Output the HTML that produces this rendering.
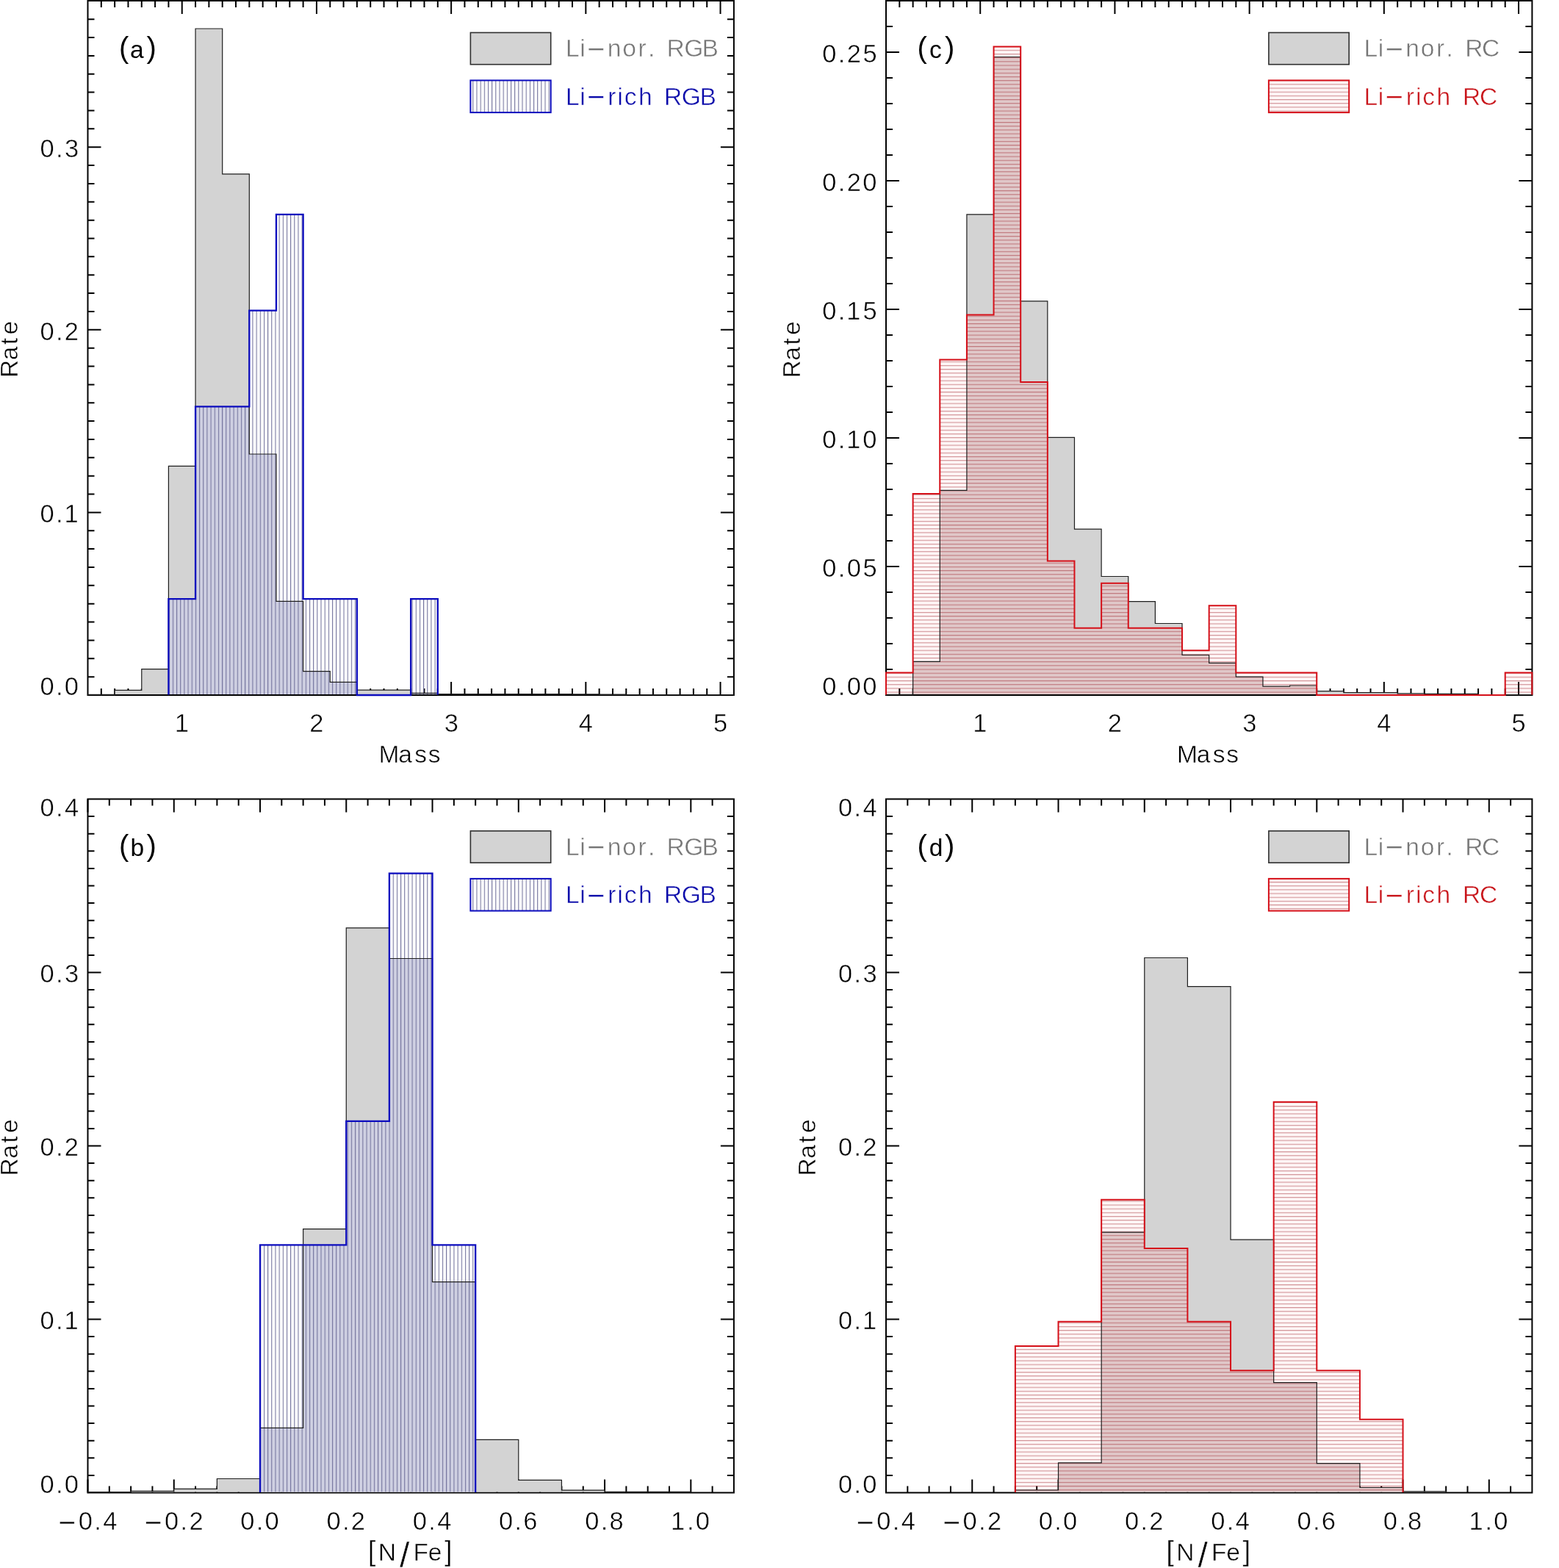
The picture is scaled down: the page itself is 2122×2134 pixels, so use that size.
<!DOCTYPE html>
<html><head><meta charset="utf-8"><title>Li-rich giants: Mass and [N/Fe] distributions</title>
<style>html,body{margin:0;padding:0;background:#fff;}svg{display:block;}text{font-family:"Liberation Sans", "DejaVu Sans", sans-serif;font-kerning:none;stroke:#fff;stroke-width:0.5px;}</style></head><body>
<svg width="2122" height="2134" viewBox="0 0 2122 2134">
<defs>
<pattern id="hv" patternUnits="userSpaceOnUse" x="2.2" y="0" width="5.17" height="20"><rect x="0" y="0" width="1.1" height="20" fill="#74749e"/></pattern>
<pattern id="hh" patternUnits="userSpaceOnUse" x="0" y="0.6" width="20" height="5.17"><rect x="0" y="0" width="20" height="5.17" fill="rgba(255,0,0,0.035)"/><rect x="0" y="0" width="20" height="1.1" fill="rgba(150,20,30,0.45)"/></pattern>
</defs>
<rect width="2122" height="2134" fill="#fff"/>
<path d="M137.82 946V937M137.82 1V10M156.14 946V937M156.14 1V10M174.46 946V937M174.46 1V10M192.78 946V937M192.78 1V10M211.1 946V937M211.1 1V10M229.42 946V937M229.42 1V10M247.74 946V937M247.74 1V10M266.06 946V937M266.06 1V10M284.38 946V937M284.38 1V10M302.7 946V937M302.7 1V10M321.02 946V937M321.02 1V10M339.34 946V937M339.34 1V10M357.66 946V937M357.66 1V10M375.98 946V937M375.98 1V10M394.3 946V937M394.3 1V10M412.62 946V937M412.62 1V10M430.94 946V937M430.94 1V10M449.26 946V937M449.26 1V10M467.58 946V937M467.58 1V10M485.9 946V937M485.9 1V10M504.22 946V937M504.22 1V10M522.54 946V937M522.54 1V10M540.86 946V937M540.86 1V10M559.18 946V937M559.18 1V10M577.5 946V937M577.5 1V10M595.82 946V937M595.82 1V10M614.14 946V937M614.14 1V10M632.46 946V937M632.46 1V10M650.78 946V937M650.78 1V10M669.1 946V937M669.1 1V10M687.42 946V937M687.42 1V10M705.74 946V937M705.74 1V10M724.06 946V937M724.06 1V10M742.38 946V937M742.38 1V10M760.7 946V937M760.7 1V10M779.02 946V937M779.02 1V10M797.34 946V937M797.34 1V10M815.66 946V937M815.66 1V10M833.98 946V937M833.98 1V10M852.3 946V937M852.3 1V10M870.62 946V937M870.62 1V10M888.94 946V937M888.94 1V10M907.26 946V937M907.26 1V10M925.58 946V937M925.58 1V10M943.9 946V937M943.9 1V10M962.22 946V937M962.22 1V10M980.54 946V937M980.54 1V10M247.74 946V928M247.74 1V19M430.94 946V928M430.94 1V19M614.14 946V928M614.14 1V19M797.34 946V928M797.34 1V19M980.54 946V928M980.54 1V19M119.5 921.14H128.5M998.9 921.14H989.9M119.5 896.28H128.5M998.9 896.28H989.9M119.5 871.42H128.5M998.9 871.42H989.9M119.5 846.56H128.5M998.9 846.56H989.9M119.5 821.7H128.5M998.9 821.7H989.9M119.5 796.84H128.5M998.9 796.84H989.9M119.5 771.98H128.5M998.9 771.98H989.9M119.5 747.12H128.5M998.9 747.12H989.9M119.5 722.26H128.5M998.9 722.26H989.9M119.5 697.4H128.5M998.9 697.4H989.9M119.5 672.54H128.5M998.9 672.54H989.9M119.5 647.68H128.5M998.9 647.68H989.9M119.5 622.82H128.5M998.9 622.82H989.9M119.5 597.96H128.5M998.9 597.96H989.9M119.5 573.1H128.5M998.9 573.1H989.9M119.5 548.24H128.5M998.9 548.24H989.9M119.5 523.38H128.5M998.9 523.38H989.9M119.5 498.52H128.5M998.9 498.52H989.9M119.5 473.66H128.5M998.9 473.66H989.9M119.5 448.8H128.5M998.9 448.8H989.9M119.5 423.94H128.5M998.9 423.94H989.9M119.5 399.08H128.5M998.9 399.08H989.9M119.5 374.22H128.5M998.9 374.22H989.9M119.5 349.36H128.5M998.9 349.36H989.9M119.5 324.5H128.5M998.9 324.5H989.9M119.5 299.64H128.5M998.9 299.64H989.9M119.5 274.78H128.5M998.9 274.78H989.9M119.5 249.92H128.5M998.9 249.92H989.9M119.5 225.06H128.5M998.9 225.06H989.9M119.5 200.2H128.5M998.9 200.2H989.9M119.5 175.34H128.5M998.9 175.34H989.9M119.5 150.48H128.5M998.9 150.48H989.9M119.5 125.62H128.5M998.9 125.62H989.9M119.5 100.76H128.5M998.9 100.76H989.9M119.5 75.9H128.5M998.9 75.9H989.9M119.5 51.04H128.5M998.9 51.04H989.9M119.5 26.18H128.5M998.9 26.18H989.9M119.5 697.4H137.5M998.9 697.4H980.9M119.5 448.8H137.5M998.9 448.8H980.9M119.5 200.2H137.5M998.9 200.2H980.9" stroke="#000" stroke-width="2" fill="none"/>
<rect x="119.5" y="1" width="879.4" height="945" fill="none" stroke="#000" stroke-width="2"/>
<path d="M119.5 945 L119.5 945.3 L156.14 945.3 L156.14 939.4 L192.78 939.4 L192.78 910.6 L229.42 910.6 L229.42 634.3 L266.06 634.3 L266.06 39 L302.7 39 L302.7 236.9 L339.34 236.9 L339.34 618 L375.98 618 L375.98 818.3 L412.62 818.3 L412.62 913.6 L449.26 913.6 L449.26 928.4 L485.9 928.4 L485.9 939.2 L522.54 939.2 L522.54 939.2 L559.18 939.2 L559.18 943.3 L595.82 943.3 L595.82 944.6 L632.46 944.6 L632.46 944.6 L669.1 944.6 L669.1 944.6 L705.74 944.6 L705.74 944.6 L742.38 944.6 L742.38 944.6 L779.02 944.6 L779.02 944.8 L815.66 944.8 L815.66 945.2 L852.3 945.2 L852.3 945.5 L888.94 945.5 L888.94 945.5 L925.58 945.5 L925.58 945.5 L962.22 945.5 L962.22 945.5 L998.86 945.5 L998.86 945Z" fill="#d3d3d3" stroke="none"/>
<path d="M229.42 815.16H266.06V945H229.42ZM266.06 553.47H302.7V945H266.06ZM302.7 553.47H339.34V945H302.7ZM339.34 618H375.98V945H339.34ZM375.98 818.3H412.62V945H375.98ZM412.62 913.6H449.26V945H412.62ZM449.26 928.4H485.9V945H449.26ZM559.18 943.3H595.82V945H559.18Z" fill="#cfd0e2"/>
<path d="M229.42 945 L229.42 815.16 L266.06 815.16 L266.06 553.47 L302.7 553.47 L302.7 553.47 L339.34 553.47 L339.34 422.63 L375.98 422.63 L375.98 291.79 L412.62 291.79 L412.62 815.16 L449.26 815.16 L449.26 815.16 L485.9 815.16 L485.9 946 L522.54 946 L522.54 946 L559.18 946 L559.18 815.16 L595.82 815.16 L595.82 945Z" fill="url(#hv)" stroke="none"/>
<path d="M119.5 946 L119.5 945.3 L156.14 945.3 L156.14 939.4 L192.78 939.4 L192.78 910.6 L229.42 910.6 L229.42 634.3 L266.06 634.3 L266.06 39 L302.7 39 L302.7 236.9 L339.34 236.9 L339.34 618 L375.98 618 L375.98 818.3 L412.62 818.3 L412.62 913.6 L449.26 913.6 L449.26 928.4 L485.9 928.4 L485.9 939.2 L522.54 939.2 L522.54 939.2 L559.18 939.2 L559.18 943.3 L595.82 943.3 L595.82 944.6 L632.46 944.6 L632.46 944.6 L669.1 944.6 L669.1 944.6 L705.74 944.6 L705.74 944.6 L742.38 944.6 L742.38 944.6 L779.02 944.6 L779.02 944.8 L815.66 944.8 L815.66 945.2 L852.3 945.2 L852.3 945.5 L888.94 945.5 L888.94 945.5 L925.58 945.5 L925.58 945.5 L962.22 945.5 L962.22 945.5 L998.86 945.5 L998.86 946" fill="none" stroke="#1e1e1e" stroke-width="1.2"/>
<path d="M229.42 945.5 L229.42 815.16 L266.06 815.16 L266.06 553.47 L302.7 553.47 L302.7 553.47 L339.34 553.47 L339.34 422.63 L375.98 422.63 L375.98 291.79 L412.62 291.79 L412.62 815.16 L449.26 815.16 L449.26 815.16 L485.9 815.16 L485.9 946 L522.54 946 L522.54 946 L559.18 946 L559.18 815.16 L595.82 815.16 L595.82 945.5" fill="none" stroke="#0c0cbe" stroke-width="2.3" stroke-linejoin="miter"/>
<path d="M1224.32 946V937M1224.32 1V10M1242.64 946V937M1242.64 1V10M1260.96 946V937M1260.96 1V10M1279.28 946V937M1279.28 1V10M1297.6 946V937M1297.6 1V10M1315.92 946V937M1315.92 1V10M1334.24 946V937M1334.24 1V10M1352.56 946V937M1352.56 1V10M1370.88 946V937M1370.88 1V10M1389.2 946V937M1389.2 1V10M1407.52 946V937M1407.52 1V10M1425.84 946V937M1425.84 1V10M1444.16 946V937M1444.16 1V10M1462.48 946V937M1462.48 1V10M1480.8 946V937M1480.8 1V10M1499.12 946V937M1499.12 1V10M1517.44 946V937M1517.44 1V10M1535.76 946V937M1535.76 1V10M1554.08 946V937M1554.08 1V10M1572.4 946V937M1572.4 1V10M1590.72 946V937M1590.72 1V10M1609.04 946V937M1609.04 1V10M1627.36 946V937M1627.36 1V10M1645.68 946V937M1645.68 1V10M1664 946V937M1664 1V10M1682.32 946V937M1682.32 1V10M1700.64 946V937M1700.64 1V10M1718.96 946V937M1718.96 1V10M1737.28 946V937M1737.28 1V10M1755.6 946V937M1755.6 1V10M1773.92 946V937M1773.92 1V10M1792.24 946V937M1792.24 1V10M1810.56 946V937M1810.56 1V10M1828.88 946V937M1828.88 1V10M1847.2 946V937M1847.2 1V10M1865.52 946V937M1865.52 1V10M1883.84 946V937M1883.84 1V10M1902.16 946V937M1902.16 1V10M1920.48 946V937M1920.48 1V10M1938.8 946V937M1938.8 1V10M1957.12 946V937M1957.12 1V10M1975.44 946V937M1975.44 1V10M1993.76 946V937M1993.76 1V10M2012.08 946V937M2012.08 1V10M2030.4 946V937M2030.4 1V10M2048.72 946V937M2048.72 1V10M2067.04 946V937M2067.04 1V10M1334.24 946V928M1334.24 1V19M1517.44 946V928M1517.44 1V19M1700.64 946V928M1700.64 1V19M1883.84 946V928M1883.84 1V19M2067.04 946V928M2067.04 1V19M1206 911H1215M2085.4 911H2076.4M1206 876H1215M2085.4 876H2076.4M1206 841H1215M2085.4 841H2076.4M1206 806H1215M2085.4 806H2076.4M1206 771H1215M2085.4 771H2076.4M1206 736H1215M2085.4 736H2076.4M1206 701H1215M2085.4 701H2076.4M1206 666H1215M2085.4 666H2076.4M1206 631H1215M2085.4 631H2076.4M1206 596H1215M2085.4 596H2076.4M1206 561H1215M2085.4 561H2076.4M1206 526H1215M2085.4 526H2076.4M1206 491H1215M2085.4 491H2076.4M1206 456H1215M2085.4 456H2076.4M1206 421H1215M2085.4 421H2076.4M1206 386H1215M2085.4 386H2076.4M1206 351H1215M2085.4 351H2076.4M1206 316H1215M2085.4 316H2076.4M1206 281H1215M2085.4 281H2076.4M1206 246H1215M2085.4 246H2076.4M1206 211H1215M2085.4 211H2076.4M1206 176H1215M2085.4 176H2076.4M1206 141H1215M2085.4 141H2076.4M1206 106H1215M2085.4 106H2076.4M1206 71H1215M2085.4 71H2076.4M1206 36H1215M2085.4 36H2076.4M1206 771H1224M2085.4 771H2067.4M1206 596H1224M2085.4 596H2067.4M1206 421H1224M2085.4 421H2067.4M1206 246H1224M2085.4 246H2067.4M1206 71H1224M2085.4 71H2067.4" stroke="#000" stroke-width="2" fill="none"/>
<rect x="1206" y="1" width="879.4" height="945" fill="none" stroke="#000" stroke-width="2"/>
<path d="M1206 945 L1206 945.4 L1242.64 945.4 L1242.64 900.3 L1279.28 900.3 L1279.28 667.4 L1315.92 667.4 L1315.92 291.8 L1352.56 291.8 L1352.56 77.5 L1389.2 77.5 L1389.2 409.8 L1425.84 409.8 L1425.84 595.4 L1462.48 595.4 L1462.48 720.2 L1499.12 720.2 L1499.12 784.5 L1535.76 784.5 L1535.76 818.6 L1572.4 818.6 L1572.4 848.5 L1609.04 848.5 L1609.04 891.5 L1645.68 891.5 L1645.68 902.4 L1682.32 902.4 L1682.32 921.1 L1718.96 921.1 L1718.96 934.2 L1755.6 934.2 L1755.6 933 L1792.24 933 L1792.24 940.7 L1828.88 940.7 L1828.88 942.6 L1865.52 942.6 L1865.52 942.6 L1902.16 942.6 L1902.16 943.8 L1938.8 943.8 L1938.8 944.3 L1975.44 944.3 L1975.44 944.3 L2012.08 944.3 L2012.08 945.6 L2048.72 945.6 L2048.72 945.6 L2085.36 945.6 L2085.36 945Z" fill="#d3d3d3" stroke="none"/>
<path d="M1242.64 900.3H1279.28V945H1242.64ZM1279.28 667.4H1315.92V945H1279.28ZM1315.92 428.61H1352.56V945H1315.92ZM1352.56 77.5H1389.2V945H1352.56ZM1389.2 519.91H1425.84V945H1389.2ZM1425.84 763.39H1462.48V945H1425.84ZM1462.48 854.7H1499.12V945H1462.48ZM1499.12 793.83H1535.76V945H1499.12ZM1535.76 854.7H1572.4V945H1535.76ZM1572.4 854.7H1609.04V945H1572.4ZM1609.04 891.5H1645.68V945H1609.04ZM1645.68 902.4H1682.32V945H1645.68ZM1682.32 921.1H1718.96V945H1682.32ZM1718.96 934.2H1755.6V945H1718.96ZM1755.6 933H1792.24V945H1755.6Z" fill="#dfcfd0"/>
<path d="M1206 945 L1206 915.57 L1242.64 915.57 L1242.64 672.09 L1279.28 672.09 L1279.28 489.48 L1315.92 489.48 L1315.92 428.61 L1352.56 428.61 L1352.56 63.39 L1389.2 63.39 L1389.2 519.91 L1425.84 519.91 L1425.84 763.39 L1462.48 763.39 L1462.48 854.7 L1499.12 854.7 L1499.12 793.83 L1535.76 793.83 L1535.76 854.7 L1572.4 854.7 L1572.4 854.7 L1609.04 854.7 L1609.04 885.13 L1645.68 885.13 L1645.68 824.26 L1682.32 824.26 L1682.32 915.57 L1718.96 915.57 L1718.96 915.57 L1755.6 915.57 L1755.6 915.57 L1792.24 915.57 L1792.24 946 L1828.88 946 L1828.88 946 L1865.52 946 L1865.52 946 L1902.16 946 L1902.16 946 L1938.8 946 L1938.8 946 L1975.44 946 L1975.44 946 L2012.08 946 L2012.08 946 L2048.72 946 L2048.72 915.57 L2085.36 915.57 L2085.36 945Z" fill="url(#hh)" stroke="none"/>
<path d="M1206 946 L1206 945.4 L1242.64 945.4 L1242.64 900.3 L1279.28 900.3 L1279.28 667.4 L1315.92 667.4 L1315.92 291.8 L1352.56 291.8 L1352.56 77.5 L1389.2 77.5 L1389.2 409.8 L1425.84 409.8 L1425.84 595.4 L1462.48 595.4 L1462.48 720.2 L1499.12 720.2 L1499.12 784.5 L1535.76 784.5 L1535.76 818.6 L1572.4 818.6 L1572.4 848.5 L1609.04 848.5 L1609.04 891.5 L1645.68 891.5 L1645.68 902.4 L1682.32 902.4 L1682.32 921.1 L1718.96 921.1 L1718.96 934.2 L1755.6 934.2 L1755.6 933 L1792.24 933 L1792.24 940.7 L1828.88 940.7 L1828.88 942.6 L1865.52 942.6 L1865.52 942.6 L1902.16 942.6 L1902.16 943.8 L1938.8 943.8 L1938.8 944.3 L1975.44 944.3 L1975.44 944.3 L2012.08 944.3 L2012.08 945.6 L2048.72 945.6 L2048.72 945.6 L2085.36 945.6 L2085.36 946" fill="none" stroke="#1e1e1e" stroke-width="1.2"/>
<path d="M1206 945.5 L1206 915.57 L1242.64 915.57 L1242.64 672.09 L1279.28 672.09 L1279.28 489.48 L1315.92 489.48 L1315.92 428.61 L1352.56 428.61 L1352.56 63.39 L1389.2 63.39 L1389.2 519.91 L1425.84 519.91 L1425.84 763.39 L1462.48 763.39 L1462.48 854.7 L1499.12 854.7 L1499.12 793.83 L1535.76 793.83 L1535.76 854.7 L1572.4 854.7 L1572.4 854.7 L1609.04 854.7 L1609.04 885.13 L1645.68 885.13 L1645.68 824.26 L1682.32 824.26 L1682.32 915.57 L1718.96 915.57 L1718.96 915.57 L1755.6 915.57 L1755.6 915.57 L1792.24 915.57 L1792.24 946 L1828.88 946 L1828.88 946 L1865.52 946 L1865.52 946 L1902.16 946 L1902.16 946 L1938.8 946 L1938.8 946 L1975.44 946 L1975.44 946 L2012.08 946 L2012.08 946 L2048.72 946 L2048.72 915.57 L2085.36 915.57 L2085.36 945.5" fill="none" stroke="#d51019" stroke-width="2.0" stroke-linejoin="miter"/>
<path d="M148.81 2031.5V2022.5M148.81 1087.5V1096.5M178.13 2031.5V2022.5M178.13 1087.5V1096.5M207.44 2031.5V2022.5M207.44 1087.5V1096.5M236.76 2031.5V2022.5M236.76 1087.5V1096.5M266.07 2031.5V2022.5M266.07 1087.5V1096.5M295.39 2031.5V2022.5M295.39 1087.5V1096.5M324.71 2031.5V2022.5M324.71 1087.5V1096.5M354.02 2031.5V2022.5M354.02 1087.5V1096.5M383.33 2031.5V2022.5M383.33 1087.5V1096.5M412.65 2031.5V2022.5M412.65 1087.5V1096.5M441.96 2031.5V2022.5M441.96 1087.5V1096.5M471.28 2031.5V2022.5M471.28 1087.5V1096.5M500.59 2031.5V2022.5M500.59 1087.5V1096.5M529.91 2031.5V2022.5M529.91 1087.5V1096.5M559.22 2031.5V2022.5M559.22 1087.5V1096.5M588.54 2031.5V2022.5M588.54 1087.5V1096.5M617.86 2031.5V2022.5M617.86 1087.5V1096.5M647.17 2031.5V2022.5M647.17 1087.5V1096.5M676.49 2031.5V2022.5M676.49 1087.5V1096.5M705.8 2031.5V2022.5M705.8 1087.5V1096.5M735.12 2031.5V2022.5M735.12 1087.5V1096.5M764.43 2031.5V2022.5M764.43 1087.5V1096.5M793.75 2031.5V2022.5M793.75 1087.5V1096.5M823.06 2031.5V2022.5M823.06 1087.5V1096.5M852.38 2031.5V2022.5M852.38 1087.5V1096.5M881.69 2031.5V2022.5M881.69 1087.5V1096.5M911 2031.5V2022.5M911 1087.5V1096.5M940.32 2031.5V2022.5M940.32 1087.5V1096.5M969.63 2031.5V2022.5M969.63 1087.5V1096.5M119.5 2031.5V2013.5M119.5 1087.5V1105.5M236.76 2031.5V2013.5M236.76 1087.5V1105.5M354.02 2031.5V2013.5M354.02 1087.5V1105.5M471.28 2031.5V2013.5M471.28 1087.5V1105.5M588.54 2031.5V2013.5M588.54 1087.5V1105.5M705.8 2031.5V2013.5M705.8 1087.5V1105.5M823.06 2031.5V2013.5M823.06 1087.5V1105.5M940.32 2031.5V2013.5M940.32 1087.5V1105.5M119.5 2007.9H128.5M998.9 2007.9H989.9M119.5 1984.3H128.5M998.9 1984.3H989.9M119.5 1960.7H128.5M998.9 1960.7H989.9M119.5 1937.1H128.5M998.9 1937.1H989.9M119.5 1913.5H128.5M998.9 1913.5H989.9M119.5 1889.9H128.5M998.9 1889.9H989.9M119.5 1866.3H128.5M998.9 1866.3H989.9M119.5 1842.7H128.5M998.9 1842.7H989.9M119.5 1819.1H128.5M998.9 1819.1H989.9M119.5 1795.5H128.5M998.9 1795.5H989.9M119.5 1771.9H128.5M998.9 1771.9H989.9M119.5 1748.3H128.5M998.9 1748.3H989.9M119.5 1724.7H128.5M998.9 1724.7H989.9M119.5 1701.1H128.5M998.9 1701.1H989.9M119.5 1677.5H128.5M998.9 1677.5H989.9M119.5 1653.9H128.5M998.9 1653.9H989.9M119.5 1630.3H128.5M998.9 1630.3H989.9M119.5 1606.7H128.5M998.9 1606.7H989.9M119.5 1583.1H128.5M998.9 1583.1H989.9M119.5 1559.5H128.5M998.9 1559.5H989.9M119.5 1535.9H128.5M998.9 1535.9H989.9M119.5 1512.3H128.5M998.9 1512.3H989.9M119.5 1488.7H128.5M998.9 1488.7H989.9M119.5 1465.1H128.5M998.9 1465.1H989.9M119.5 1441.5H128.5M998.9 1441.5H989.9M119.5 1417.9H128.5M998.9 1417.9H989.9M119.5 1394.3H128.5M998.9 1394.3H989.9M119.5 1370.7H128.5M998.9 1370.7H989.9M119.5 1347.1H128.5M998.9 1347.1H989.9M119.5 1323.5H128.5M998.9 1323.5H989.9M119.5 1299.9H128.5M998.9 1299.9H989.9M119.5 1276.3H128.5M998.9 1276.3H989.9M119.5 1252.7H128.5M998.9 1252.7H989.9M119.5 1229.1H128.5M998.9 1229.1H989.9M119.5 1205.5H128.5M998.9 1205.5H989.9M119.5 1181.9H128.5M998.9 1181.9H989.9M119.5 1158.3H128.5M998.9 1158.3H989.9M119.5 1134.7H128.5M998.9 1134.7H989.9M119.5 1111.1H128.5M998.9 1111.1H989.9M119.5 1795.5H137.5M998.9 1795.5H980.9M119.5 1559.5H137.5M998.9 1559.5H980.9M119.5 1323.5H137.5M998.9 1323.5H980.9" stroke="#000" stroke-width="2" fill="none"/>
<rect x="119.5" y="1087.5" width="879.4" height="944" fill="none" stroke="#000" stroke-width="2"/>
<path d="M119.5 2030.5 L119.5 2030.6 L178.13 2030.6 L178.13 2029.4 L236.76 2029.4 L236.76 2026.3 L295.39 2026.3 L295.39 2012.5 L354.02 2012.5 L354.02 1943.4 L412.65 1943.4 L412.65 1672.7 L471.28 1672.7 L471.28 1262.9 L529.91 1262.9 L529.91 1304.5 L588.54 1304.5 L588.54 1744.6 L647.17 1744.6 L647.17 1959.3 L705.8 1959.3 L705.8 2014.4 L764.43 2014.4 L764.43 2028.1 L823.06 2028.1 L823.06 2030.3 L881.69 2030.3 L881.69 2030.3 L940.32 2030.3 L940.32 2030.5Z" fill="#d3d3d3" stroke="none"/>
<path d="M354.02 1943.4H412.65V2030.5H354.02ZM412.65 1694.36H471.28V2030.5H412.65ZM471.28 1525.79H529.91V2030.5H471.28ZM529.91 1304.5H588.54V2030.5H529.91ZM588.54 1744.6H647.17V2030.5H588.54Z" fill="#cfd0e2"/>
<path d="M354.02 2030.5 L354.02 1694.36 L412.65 1694.36 L412.65 1694.36 L471.28 1694.36 L471.28 1525.79 L529.91 1525.79 L529.91 1188.64 L588.54 1188.64 L588.54 1694.36 L647.17 1694.36 L647.17 2030.5Z" fill="url(#hv)" stroke="none"/>
<path d="M119.5 2031.5 L119.5 2030.6 L178.13 2030.6 L178.13 2029.4 L236.76 2029.4 L236.76 2026.3 L295.39 2026.3 L295.39 2012.5 L354.02 2012.5 L354.02 1943.4 L412.65 1943.4 L412.65 1672.7 L471.28 1672.7 L471.28 1262.9 L529.91 1262.9 L529.91 1304.5 L588.54 1304.5 L588.54 1744.6 L647.17 1744.6 L647.17 1959.3 L705.8 1959.3 L705.8 2014.4 L764.43 2014.4 L764.43 2028.1 L823.06 2028.1 L823.06 2030.3 L881.69 2030.3 L881.69 2030.3 L940.32 2030.3 L940.32 2031.5" fill="none" stroke="#1e1e1e" stroke-width="1.2"/>
<path d="M354.02 2031 L354.02 1694.36 L412.65 1694.36 L412.65 1694.36 L471.28 1694.36 L471.28 1525.79 L529.91 1525.79 L529.91 1188.64 L588.54 1188.64 L588.54 1694.36 L647.17 1694.36 L647.17 2031" fill="none" stroke="#0c0cbe" stroke-width="2.3" stroke-linejoin="miter"/>
<path d="M1235.32 2031.5V2022.5M1235.32 1087.5V1096.5M1264.63 2031.5V2022.5M1264.63 1087.5V1096.5M1293.94 2031.5V2022.5M1293.94 1087.5V1096.5M1323.26 2031.5V2022.5M1323.26 1087.5V1096.5M1352.58 2031.5V2022.5M1352.58 1087.5V1096.5M1381.89 2031.5V2022.5M1381.89 1087.5V1096.5M1411.2 2031.5V2022.5M1411.2 1087.5V1096.5M1440.52 2031.5V2022.5M1440.52 1087.5V1096.5M1469.84 2031.5V2022.5M1469.84 1087.5V1096.5M1499.15 2031.5V2022.5M1499.15 1087.5V1096.5M1528.46 2031.5V2022.5M1528.46 1087.5V1096.5M1557.78 2031.5V2022.5M1557.78 1087.5V1096.5M1587.1 2031.5V2022.5M1587.1 1087.5V1096.5M1616.41 2031.5V2022.5M1616.41 1087.5V1096.5M1645.72 2031.5V2022.5M1645.72 1087.5V1096.5M1675.04 2031.5V2022.5M1675.04 1087.5V1096.5M1704.36 2031.5V2022.5M1704.36 1087.5V1096.5M1733.67 2031.5V2022.5M1733.67 1087.5V1096.5M1762.99 2031.5V2022.5M1762.99 1087.5V1096.5M1792.3 2031.5V2022.5M1792.3 1087.5V1096.5M1821.62 2031.5V2022.5M1821.62 1087.5V1096.5M1850.93 2031.5V2022.5M1850.93 1087.5V1096.5M1880.24 2031.5V2022.5M1880.24 1087.5V1096.5M1909.56 2031.5V2022.5M1909.56 1087.5V1096.5M1938.88 2031.5V2022.5M1938.88 1087.5V1096.5M1968.19 2031.5V2022.5M1968.19 1087.5V1096.5M1997.51 2031.5V2022.5M1997.51 1087.5V1096.5M2026.82 2031.5V2022.5M2026.82 1087.5V1096.5M2056.14 2031.5V2022.5M2056.14 1087.5V1096.5M1206 2031.5V2013.5M1206 1087.5V1105.5M1323.26 2031.5V2013.5M1323.26 1087.5V1105.5M1440.52 2031.5V2013.5M1440.52 1087.5V1105.5M1557.78 2031.5V2013.5M1557.78 1087.5V1105.5M1675.04 2031.5V2013.5M1675.04 1087.5V1105.5M1792.3 2031.5V2013.5M1792.3 1087.5V1105.5M1909.56 2031.5V2013.5M1909.56 1087.5V1105.5M2026.82 2031.5V2013.5M2026.82 1087.5V1105.5M1206 2007.9H1215M2085.4 2007.9H2076.4M1206 1984.3H1215M2085.4 1984.3H2076.4M1206 1960.7H1215M2085.4 1960.7H2076.4M1206 1937.1H1215M2085.4 1937.1H2076.4M1206 1913.5H1215M2085.4 1913.5H2076.4M1206 1889.9H1215M2085.4 1889.9H2076.4M1206 1866.3H1215M2085.4 1866.3H2076.4M1206 1842.7H1215M2085.4 1842.7H2076.4M1206 1819.1H1215M2085.4 1819.1H2076.4M1206 1795.5H1215M2085.4 1795.5H2076.4M1206 1771.9H1215M2085.4 1771.9H2076.4M1206 1748.3H1215M2085.4 1748.3H2076.4M1206 1724.7H1215M2085.4 1724.7H2076.4M1206 1701.1H1215M2085.4 1701.1H2076.4M1206 1677.5H1215M2085.4 1677.5H2076.4M1206 1653.9H1215M2085.4 1653.9H2076.4M1206 1630.3H1215M2085.4 1630.3H2076.4M1206 1606.7H1215M2085.4 1606.7H2076.4M1206 1583.1H1215M2085.4 1583.1H2076.4M1206 1559.5H1215M2085.4 1559.5H2076.4M1206 1535.9H1215M2085.4 1535.9H2076.4M1206 1512.3H1215M2085.4 1512.3H2076.4M1206 1488.7H1215M2085.4 1488.7H2076.4M1206 1465.1H1215M2085.4 1465.1H2076.4M1206 1441.5H1215M2085.4 1441.5H2076.4M1206 1417.9H1215M2085.4 1417.9H2076.4M1206 1394.3H1215M2085.4 1394.3H2076.4M1206 1370.7H1215M2085.4 1370.7H2076.4M1206 1347.1H1215M2085.4 1347.1H2076.4M1206 1323.5H1215M2085.4 1323.5H2076.4M1206 1299.9H1215M2085.4 1299.9H2076.4M1206 1276.3H1215M2085.4 1276.3H2076.4M1206 1252.7H1215M2085.4 1252.7H2076.4M1206 1229.1H1215M2085.4 1229.1H2076.4M1206 1205.5H1215M2085.4 1205.5H2076.4M1206 1181.9H1215M2085.4 1181.9H2076.4M1206 1158.3H1215M2085.4 1158.3H2076.4M1206 1134.7H1215M2085.4 1134.7H2076.4M1206 1111.1H1215M2085.4 1111.1H2076.4M1206 1795.5H1224M2085.4 1795.5H2067.4M1206 1559.5H1224M2085.4 1559.5H2067.4M1206 1323.5H1224M2085.4 1323.5H2067.4" stroke="#000" stroke-width="2" fill="none"/>
<rect x="1206" y="1087.5" width="879.4" height="944" fill="none" stroke="#000" stroke-width="2"/>
<path d="M1381.89 2030.5 L1381.89 2028 L1440.52 2028 L1440.52 1990.8 L1499.15 1990.8 L1499.15 1677.2 L1557.78 1677.2 L1557.78 1303.5 L1616.41 1303.5 L1616.41 1342.7 L1675.04 1342.7 L1675.04 1687.2 L1733.67 1687.2 L1733.67 1881.7 L1792.3 1881.7 L1792.3 1991.7 L1850.93 1991.7 L1850.93 2024.5 L1909.56 2024.5 L1909.56 2029.8 L1968.19 2029.8 L1968.19 2030.5Z" fill="#d3d3d3" stroke="none"/>
<path d="M1381.89 2028H1440.52V2030.5H1381.89ZM1440.52 1990.8H1499.15V2030.5H1440.52ZM1499.15 1677.2H1557.78V2030.5H1499.15ZM1557.78 1699.11H1616.41V2030.5H1557.78ZM1616.41 1798.82H1675.04V2030.5H1616.41ZM1675.04 1865.3H1733.67V2030.5H1675.04ZM1733.67 1881.7H1792.3V2030.5H1733.67ZM1792.3 1991.7H1850.93V2030.5H1792.3ZM1850.93 2024.5H1909.56V2030.5H1850.93Z" fill="#dfcfd0"/>
<path d="M1381.89 2030.5 L1381.89 1832.06 L1440.52 1832.06 L1440.52 1798.82 L1499.15 1798.82 L1499.15 1632.63 L1557.78 1632.63 L1557.78 1699.11 L1616.41 1699.11 L1616.41 1798.82 L1675.04 1798.82 L1675.04 1865.3 L1733.67 1865.3 L1733.67 1499.67 L1792.3 1499.67 L1792.3 1865.3 L1850.93 1865.3 L1850.93 1931.78 L1909.56 1931.78 L1909.56 2030.5Z" fill="url(#hh)" stroke="none"/>
<path d="M1381.89 2031.5 L1381.89 2028 L1440.52 2028 L1440.52 1990.8 L1499.15 1990.8 L1499.15 1677.2 L1557.78 1677.2 L1557.78 1303.5 L1616.41 1303.5 L1616.41 1342.7 L1675.04 1342.7 L1675.04 1687.2 L1733.67 1687.2 L1733.67 1881.7 L1792.3 1881.7 L1792.3 1991.7 L1850.93 1991.7 L1850.93 2024.5 L1909.56 2024.5 L1909.56 2029.8 L1968.19 2029.8 L1968.19 2031.5" fill="none" stroke="#1e1e1e" stroke-width="1.2"/>
<path d="M1381.89 2031 L1381.89 1832.06 L1440.52 1832.06 L1440.52 1798.82 L1499.15 1798.82 L1499.15 1632.63 L1557.78 1632.63 L1557.78 1699.11 L1616.41 1699.11 L1616.41 1798.82 L1675.04 1798.82 L1675.04 1865.3 L1733.67 1865.3 L1733.67 1499.67 L1792.3 1499.67 L1792.3 1865.3 L1850.93 1865.3 L1850.93 1931.78 L1909.56 1931.78 L1909.56 2031" fill="none" stroke="#d51019" stroke-width="2.0" stroke-linejoin="miter"/>
<rect x="640.4" y="44.4" width="109.3" height="43.3" fill="#d3d3d3" stroke="#303030" stroke-width="1.6"/>
<rect x="640.4" y="109.4" width="109.3" height="43.7" fill="url(#hv)" stroke="#0c0cbe" stroke-width="2"/>
<text fill="#767676"><tspan x="769.99 789.33" y="77.3" font-size="33.6">Li</tspan><tspan x="799.08" y="80.9" font-size="42">−</tspan><tspan x="826.63 847.26 868.57 882.03 903.5 907.42 931.29 955.4" y="77.3" font-size="33.6">nor. RGB</tspan></text>
<text fill="#0a0aaa"><tspan x="769.99 789.33" y="142.6" font-size="33.6">Li</tspan><tspan x="799.08" y="146.2" font-size="42">−</tspan><tspan x="827.27 840.58 849.68 868.93 897.5 904.02 927.79 952.6" y="142.6" font-size="33.6">rich RGB</tspan></text>
<rect x="1726.9" y="44.4" width="109.3" height="43.3" fill="#d3d3d3" stroke="#303030" stroke-width="1.6"/>
<rect x="1726.9" y="109.4" width="109.3" height="43.7" fill="url(#hh)" stroke="#d51019" stroke-width="2"/>
<text fill="#767676"><tspan x="1856.49 1875.83" y="77.3" font-size="33.6">Li</tspan><tspan x="1885.58" y="80.9" font-size="42">−</tspan><tspan x="1913.13 1933.76 1955.07 1968.53 1990 1994.27 2017.05" y="77.3" font-size="33.6">nor. RC</tspan></text>
<text fill="#c8141a"><tspan x="1856.49 1875.83" y="142.6" font-size="33.6">Li</tspan><tspan x="1885.58" y="146.2" font-size="42">−</tspan><tspan x="1913.77 1927.08 1936.18 1955.43 1984 1991.07 2014.05" y="142.6" font-size="33.6">rich RC</tspan></text>
<rect x="640.4" y="1130.9" width="109.3" height="43.3" fill="#d3d3d3" stroke="#303030" stroke-width="1.6"/>
<rect x="640.4" y="1195.9" width="109.3" height="43.7" fill="url(#hv)" stroke="#0c0cbe" stroke-width="2"/>
<text fill="#767676"><tspan x="769.99 789.33" y="1163.8" font-size="33.6">Li</tspan><tspan x="799.08" y="1167.4" font-size="42">−</tspan><tspan x="826.63 847.26 868.57 882.03 903.5 907.42 931.29 955.4" y="1163.8" font-size="33.6">nor. RGB</tspan></text>
<text fill="#0a0aaa"><tspan x="769.99 789.33" y="1229.1" font-size="33.6">Li</tspan><tspan x="799.08" y="1232.7" font-size="42">−</tspan><tspan x="827.27 840.58 849.68 868.93 897.5 904.02 927.79 952.6" y="1229.1" font-size="33.6">rich RGB</tspan></text>
<rect x="1726.9" y="1130.9" width="109.3" height="43.3" fill="#d3d3d3" stroke="#303030" stroke-width="1.6"/>
<rect x="1726.9" y="1195.9" width="109.3" height="43.7" fill="url(#hh)" stroke="#d51019" stroke-width="2"/>
<text fill="#767676"><tspan x="1856.49 1875.83" y="1163.8" font-size="33.6">Li</tspan><tspan x="1885.58" y="1167.4" font-size="42">−</tspan><tspan x="1913.13 1933.76 1955.07 1968.53 1990 1994.27 2017.05" y="1163.8" font-size="33.6">nor. RC</tspan></text>
<text fill="#c8141a"><tspan x="1856.49 1875.83" y="1229.1" font-size="33.6">Li</tspan><tspan x="1885.58" y="1232.7" font-size="42">−</tspan><tspan x="1913.77 1927.08 1936.18 1955.43 1984 1991.07 2014.05" y="1229.1" font-size="33.6">rich RC</tspan></text>
<text fill="#000" style="stroke:none"><tspan x="162.02" y="78.8" font-size="40">(</tspan><tspan x="177.04" y="78.8" font-size="33.6">a</tspan><tspan x="199.56" y="78.8" font-size="40">)</tspan></text>
<text fill="#000" style="stroke:none"><tspan x="1248.52" y="78.8" font-size="40">(</tspan><tspan x="1264.93" y="78.8" font-size="33.6">c</tspan><tspan x="1286.06" y="78.8" font-size="40">)</tspan></text>
<text fill="#000" style="stroke:none"><tspan x="162.02" y="1165.3" font-size="40">(</tspan><tspan x="177.38" y="1165.3" font-size="33.6">b</tspan><tspan x="199.56" y="1165.3" font-size="40">)</tspan></text>
<text fill="#000" style="stroke:none"><tspan x="1248.52" y="1165.3" font-size="40">(</tspan><tspan x="1264.63" y="1165.3" font-size="33.6">d</tspan><tspan x="1286.06" y="1165.3" font-size="40">)</tspan></text>
<text fill="#000"><tspan x="54.46 75.96 87.86" y="946.4" font-size="34.5">0.0</tspan></text>
<text fill="#000"><tspan x="54.46 75.96 87.38" y="711.1" font-size="34.5">0.1</tspan></text>
<text fill="#000"><tspan x="54.46 75.96 87.86" y="462.5" font-size="34.5">0.2</tspan></text>
<text fill="#000"><tspan x="54.46 75.96 87.96" y="213.9" font-size="34.5">0.3</tspan></text>
<text fill="#000"><tspan x="1119.26 1140.76 1152.66 1174.36" y="946.4" font-size="34.5">0.00</tspan></text>
<text fill="#000"><tspan x="1119.26 1140.76 1152.66 1174.39" y="784.7" font-size="34.5">0.05</tspan></text>
<text fill="#000"><tspan x="1119.26 1140.76 1152.18 1174.36" y="609.7" font-size="34.5">0.10</tspan></text>
<text fill="#000"><tspan x="1119.26 1140.76 1152.18 1174.39" y="434.7" font-size="34.5">0.15</tspan></text>
<text fill="#000"><tspan x="1119.26 1140.76 1152.66 1174.36" y="259.7" font-size="34.5">0.20</tspan></text>
<text fill="#000"><tspan x="1119.26 1140.76 1152.66 1174.39" y="84.7" font-size="34.5">0.25</tspan></text>
<text fill="#000"><tspan x="54.46 75.96 87.86" y="2031.9" font-size="34.5">0.0</tspan></text>
<text fill="#000"><tspan x="54.46 75.96 87.38" y="1809.2" font-size="34.5">0.1</tspan></text>
<text fill="#000"><tspan x="54.46 75.96 87.86" y="1573.2" font-size="34.5">0.2</tspan></text>
<text fill="#000"><tspan x="54.46 75.96 87.96" y="1337.2" font-size="34.5">0.3</tspan></text>
<text fill="#000"><tspan x="54.46 75.96 87.97" y="1110.6" font-size="34.5">0.4</tspan></text>
<text fill="#000"><tspan x="1140.96 1162.46 1174.36" y="2031.9" font-size="34.5">0.0</tspan></text>
<text fill="#000"><tspan x="1140.96 1162.46 1173.88" y="1809.2" font-size="34.5">0.1</tspan></text>
<text fill="#000"><tspan x="1140.96 1162.46 1174.36" y="1573.2" font-size="34.5">0.2</tspan></text>
<text fill="#000"><tspan x="1140.96 1162.46 1174.46" y="1337.2" font-size="34.5">0.3</tspan></text>
<text fill="#000"><tspan x="1140.96 1162.46 1174.47" y="1110.6" font-size="34.5">0.4</tspan></text>
<text fill="#000"><tspan x="237.67" y="996" font-size="34.5">1</tspan></text>
<text fill="#000"><tspan x="421.35" y="996" font-size="34.5">2</tspan></text>
<text fill="#000"><tspan x="604.65" y="996" font-size="34.5">3</tspan></text>
<text fill="#000"><tspan x="787.86" y="996" font-size="34.5">4</tspan></text>
<text fill="#000"><tspan x="970.98" y="996" font-size="34.5">5</tspan></text>
<text fill="#000"><tspan x="1324.17" y="996" font-size="34.5">1</tspan></text>
<text fill="#000"><tspan x="1507.85" y="996" font-size="34.5">2</tspan></text>
<text fill="#000"><tspan x="1691.15" y="996" font-size="34.5">3</tspan></text>
<text fill="#000"><tspan x="1874.36" y="996" font-size="34.5">4</tspan></text>
<text fill="#000"><tspan x="2057.48" y="996" font-size="34.5">5</tspan></text>
<text fill="#000"><tspan x="79.37" y="2085.5" font-size="41">−</tspan><tspan x="106.76 128.26 140.27" y="2082.1" font-size="34.5">0.4</tspan></text>
<text fill="#000"><tspan x="196.63" y="2085.5" font-size="41">−</tspan><tspan x="224.02 245.52 257.42" y="2082.1" font-size="34.5">0.2</tspan></text>
<text fill="#000"><tspan x="327.13 348.63 360.53" y="2082.1" font-size="34.5">0.0</tspan></text>
<text fill="#000"><tspan x="444.39 465.89 477.79" y="2082.1" font-size="34.5">0.2</tspan></text>
<text fill="#000"><tspan x="561.65 583.15 595.16" y="2082.1" font-size="34.5">0.4</tspan></text>
<text fill="#000"><tspan x="678.91 700.41 712.19" y="2082.1" font-size="34.5">0.6</tspan></text>
<text fill="#000"><tspan x="796.17 817.67 829.57" y="2082.1" font-size="34.5">0.8</tspan></text>
<text fill="#000"><tspan x="912.95 934.93 946.83" y="2082.1" font-size="34.5">1.0</tspan></text>
<text fill="#000"><tspan x="1165.87" y="2085.5" font-size="41">−</tspan><tspan x="1193.26 1214.76 1226.77" y="2082.1" font-size="34.5">0.4</tspan></text>
<text fill="#000"><tspan x="1283.13" y="2085.5" font-size="41">−</tspan><tspan x="1310.52 1332.02 1343.92" y="2082.1" font-size="34.5">0.2</tspan></text>
<text fill="#000"><tspan x="1413.63 1435.13 1447.03" y="2082.1" font-size="34.5">0.0</tspan></text>
<text fill="#000"><tspan x="1530.89 1552.39 1564.29" y="2082.1" font-size="34.5">0.2</tspan></text>
<text fill="#000"><tspan x="1648.15 1669.65 1681.66" y="2082.1" font-size="34.5">0.4</tspan></text>
<text fill="#000"><tspan x="1765.41 1786.91 1798.69" y="2082.1" font-size="34.5">0.6</tspan></text>
<text fill="#000"><tspan x="1882.67 1904.17 1916.07" y="2082.1" font-size="34.5">0.8</tspan></text>
<text fill="#000"><tspan x="1999.45 2021.43 2033.33" y="2082.1" font-size="34.5">1.0</tspan></text>
<text fill="#000"><tspan x="515.41 542.24 564.24 582.84" y="1038" font-size="33.6">Mass</tspan></text>
<text fill="#000"><tspan x="500.8" y="2124.2" font-size="38.4">[</tspan><tspan x="514.66" y="2124.2" font-size="33.6">N</tspan><tspan x="543.98" y="2132.7" font-size="48">/</tspan><tspan x="562.48 582.79" y="2124.2" font-size="33.6">Fe</tspan><tspan x="605.08" y="2124.2" font-size="38.4">]</tspan></text>
<text fill="#000"><tspan x="1601.91 1628.74 1650.74 1669.34" y="1038" font-size="33.6">Mass</tspan></text>
<text fill="#000"><tspan x="1587.3" y="2124.2" font-size="38.4">[</tspan><tspan x="1601.16" y="2124.2" font-size="33.6">N</tspan><tspan x="1630.48" y="2132.7" font-size="48">/</tspan><tspan x="1648.98 1669.29" y="2124.2" font-size="33.6">Fe</tspan><tspan x="1691.58" y="2124.2" font-size="38.4">]</tspan></text>
<text fill="#000" transform="translate(24 473.5) rotate(-90)"><tspan x="-40.48 -16.66 4.55 18.04" y="0" font-size="33.6">Rate</tspan></text>
<text fill="#000" transform="translate(1088.5 474) rotate(-90)"><tspan x="-40.48 -16.66 4.55 18.04" y="0" font-size="33.6">Rate</tspan></text>
<text fill="#000" transform="translate(24 1560) rotate(-90)"><tspan x="-40.48 -16.66 4.55 18.04" y="0" font-size="33.6">Rate</tspan></text>
<text fill="#000" transform="translate(1110.2 1560) rotate(-90)"><tspan x="-40.48 -16.66 4.55 18.04" y="0" font-size="33.6">Rate</tspan></text>
</svg></body></html>
